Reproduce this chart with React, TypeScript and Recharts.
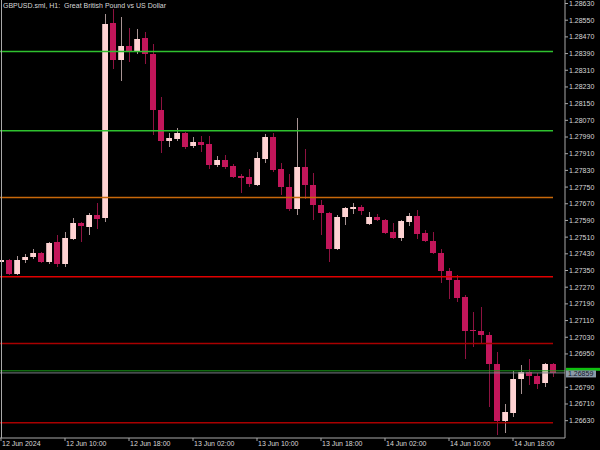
import React from 'react';
import { ComposedChart, Bar, XAxis, YAxis, ReferenceLine } from 'recharts';

// H1 candles, GBPUSD, starting 12 Jun 2024 02:00
const opens = [
  1.27391, 1.274, 1.27333, 1.274, 1.27415, 1.27434, 1.27391, 1.27487, 1.27381, 1.27501,
  1.27578, 1.27559, 1.27616, 1.27602, 1.28537, 1.28359, 1.28426, 1.28402, 1.28465, 1.28388,
  1.28119, 1.27971, 1.27981, 1.28009, 1.27947, 1.27966, 1.27956, 1.27856, 1.2788, 1.27851,
  1.27803, 1.27798, 1.2776, 1.27885, 1.2799, 1.27837, 1.2775, 1.27645, 1.27846, 1.2776,
  1.27664, 1.27626, 1.27453, 1.27607, 1.27645, 1.27654, 1.27573, 1.27607, 1.27592, 1.27535,
  1.27506, 1.27583, 1.27611, 1.2753, 1.27491, 1.27434, 1.27348, 1.27305, 1.27223, 1.27065,
  1.2706, 1.27041, 1.26902, 1.26629, 1.26667, 1.2683, 1.26863, 1.26844, 1.26811, 1.26902,
];
const highs = [
  1.2741, 1.27405, 1.2742, 1.27429, 1.27453, 1.27439, 1.27487, 1.2752, 1.27535, 1.27602,
  1.27583, 1.27626, 1.27674, 1.2858, 1.28604, 1.28565, 1.28513, 1.28508, 1.28493, 1.28436,
  1.28182, 1.28009, 1.28033, 1.28014, 1.2799, 1.27995, 1.27995, 1.27899, 1.27904, 1.27861,
  1.27813, 1.27837, 1.27918, 1.28004, 1.28009, 1.27865, 1.27813, 1.28081, 1.27933, 1.27817,
  1.27688, 1.27631, 1.27616, 1.27654, 1.27674, 1.27664, 1.27631, 1.27621, 1.27597, 1.27578,
  1.27592, 1.27626, 1.2764, 1.27544, 1.27535, 1.27453, 1.27362, 1.27328, 1.27233, 1.27151,
  1.27175, 1.27055, 1.26959, 1.2671, 1.26868, 1.26897, 1.26926, 1.26859, 1.26907, 1.26907,
];
const lows = [
  1.27386, 1.27328, 1.27328, 1.27386, 1.27405, 1.27386, 1.27381, 1.27367, 1.27367, 1.27496,
  1.27487, 1.2752, 1.27549, 1.27583, 1.28316, 1.28259, 1.2835, 1.28388, 1.2834, 1.28,
  1.27913, 1.27942, 1.27971, 1.27933, 1.27937, 1.27918, 1.27837, 1.27846, 1.27837, 1.27793,
  1.27722, 1.2775, 1.27755, 1.27865, 1.27822, 1.27712, 1.27635, 1.27616, 1.27693, 1.27592,
  1.2752, 1.27391, 1.27448, 1.27568, 1.27621, 1.27616, 1.27568, 1.27587, 1.27525, 1.27501,
  1.27491, 1.27563, 1.27501, 1.27487, 1.27429, 1.2729, 1.27213, 1.27199, 1.26926, 1.26983,
  1.27002, 1.26696, 1.26561, 1.26571, 1.26648, 1.26758, 1.26801, 1.26782, 1.26792, 1.26839,
];
const closes = [
  1.274, 1.27333, 1.274, 1.27415, 1.27434, 1.27391, 1.27482, 1.27381, 1.27506, 1.27578,
  1.27563, 1.27616, 1.27597, 1.28532, 1.28359, 1.28426, 1.28402, 1.2846, 1.28388, 1.28119,
  1.27971, 1.27985, 1.28009, 1.27942, 1.27966, 1.27952, 1.27856, 1.2788, 1.27846, 1.27798,
  1.27793, 1.27765, 1.27889, 1.2799, 1.27832, 1.2775, 1.27645, 1.27846, 1.2776, 1.27664,
  1.27626, 1.27453, 1.27607, 1.2765, 1.27654, 1.27635, 1.27607, 1.27592, 1.2753, 1.27506,
  1.27587, 1.27611, 1.27525, 1.27491, 1.27434, 1.27348, 1.27305, 1.27218, 1.2706, 1.2706,
  1.27041, 1.26902, 1.26629, 1.26672, 1.2683, 1.26863, 1.26844, 1.26806, 1.26902, 1.26859,
];

const timeTickIdx = [0, 8, 16, 24, 32, 40, 48, 56, 64];
const timeTickLabels = [
  '12 Jun 2024', '12 Jun 10:00', '12 Jun 18:00', '13 Jun 02:00', '13 Jun 10:00',
  '13 Jun 18:00', '14 Jun 02:00', '14 Jun 10:00', '14 Jun 18:00',
];
// 1.26870 sits under the current-price label in the reference, so it is not shown
const priceTicks = [
  1.2863, 1.2855, 1.2847, 1.2839, 1.2831, 1.2823, 1.2815, 1.2807, 1.2799, 1.2791,
  1.2783, 1.2775, 1.2767, 1.2759, 1.2751, 1.2743, 1.2735, 1.2727, 1.2719, 1.2711,
  1.2703, 1.2695, 1.2679, 1.2671, 1.2663,
];
const levelPrices = [1.284, 1.2802, 1.277, 1.2732, 1.27, 1.2662];
const levelColors = ['#2fc12f', '#2fc12f', '#c8680a', '#e00000', '#a80000', '#a80000'];
const levelEndIdx = 69;
const bidPrice = 1.26859;
const askPrice = 1.26869;

const data = opens.map((o, i) => ({ i, open: o, high: highs[i], low: lows[i], close: closes[i] }));

const FONT = '"Liberation Sans", Arial, sans-serif';
const AXIS = '#a8a8a8';
const TEXT = '#d8d8d8';

const Candle = (props: any) => {
  const { x, y, width, height, payload } = props;
  if (x == null || y == null || !payload) return null;
  const top = Math.min(y, y + height);
  const bot = Math.max(y, y + height);
  const { open, high, low, close } = payload;
  const k = (bot - top) / (high - low);
  const py = (p: number) => top + (high - p) * k;
  const cx = Math.round(x + width / 2);
  const bull = close >= open;
  const bTop = Math.round(py(Math.max(open, close)));
  const bBot = Math.max(Math.round(py(Math.min(open, close))), bTop + 1);
  const body = bull ? '#ffd3d3' : '#c2165a';
  const wick = bull ? '#a89494' : '#8e1240';
  return (
    <g>
      <line x1={cx + 0.5} x2={cx + 0.5} y1={Math.round(top)} y2={Math.round(bot)} stroke={wick} strokeWidth={1} />
      <rect x={cx - 3} y={bTop} width={6} height={bBot - bTop} fill={body} />
      {bull && <line x1={cx - 2.5} x2={cx - 2.5} y1={bTop} y2={bBot} stroke="#c8a8a8" strokeWidth={1} />}
    </g>
  );
};

const XTick = (props: any) => {
  const { x, y, payload } = props;
  const idx = timeTickIdx.indexOf(payload.value);
  return (
    <text x={x + 1} y={y} dy="0.71em" textAnchor="start" fill={TEXT} fontSize={7} fontFamily={FONT}>
      {idx >= 0 ? timeTickLabels[idx] : ''}
    </text>
  );
};

const YTick = (props: any) => {
  const { x, y, payload } = props;
  return (
    <text x={x} y={y} dy="0.355em" textAnchor="start" fill={TEXT} fontSize={7} fontFamily={FONT}>
      {Number(payload.value).toFixed(5)}
    </text>
  );
};

const AskLabel = (props: any) => {
  const { viewBox } = props;
  if (!viewBox) return null;
  const x0 = viewBox.x + viewBox.width + 1;
  return <rect x={x0} y={viewBox.y - 3} width={34} height={3} fill="#10c010" />;
};

const BidLabel = (props: any) => {
  const { viewBox, text } = props;
  if (!viewBox) return null;
  const x0 = viewBox.x + viewBox.width + 1;
  const yc = viewBox.y;
  return (
    <g>
      <rect x={x0} y={yc - 2.5} width={30} height={7} fill="#8c9aa8" />
      <text x={x0 + 2} y={yc + 1} dy="0.355em" fill="#101828" fontSize={7} fontFamily={FONT}>{text}</text>
    </g>
  );
};

export default function App() {
  return (
    <div style={{ position: 'fixed', left: 0, top: 0, width: 600, height: 450, background: '#000', overflow: 'hidden' }}>
      <ComposedChart width={600} height={450} data={data} margin={{ top: 0, right: 0, bottom: 0, left: 0 }}>
        <XAxis
          dataKey="i"
          type="number"
          domain={[-0.125, 70.5]}
          allowDataOverflow
          ticks={timeTickIdx}
          tick={<XTick />}
          tickSize={3}
          tickMargin={0}
          height={12}
          stroke={AXIS}
          axisLine={{ stroke: AXIS }}
          tickLine={{ stroke: AXIS }}
          interval={0}
        />
        <YAxis
          yAxisId="p"
          orientation="right"
          type="number"
          domain={[1.26547, 1.286468]}
          allowDataOverflow
          ticks={priceTicks}
          tick={<YTick />}
          tickSize={3}
          tickMargin={1}
          width={35}
          interval={0}
          axisLine={{ stroke: AXIS }}
          tickLine={{ stroke: AXIS }}
        />
        <ReferenceLine
          yAxisId="p"
          y={askPrice}
          stroke="#1a9e1a"
          strokeWidth={1}
          label={<AskLabel />}
        />
        <ReferenceLine
          yAxisId="p"
          y={bidPrice}
          stroke="#7a8088"
          strokeWidth={1}
          label={<BidLabel text={bidPrice.toFixed(5)} />}
        />
        <Bar
          yAxisId="p"
          dataKey={(d: any) => [d.low, d.high]}
          barSize={6}
          shape={<Candle />}
          isAnimationActive={false}
        />
        {levelPrices.map((p, j) => (
          <ReferenceLine
            key={j}
            yAxisId="p"
            segment={[{ x: -0.125, y: p }, { x: levelEndIdx, y: p }]}
            stroke={levelColors[j]}
            strokeWidth={1.5}
            ifOverflow="visible"
          />
        ))}
      </ComposedChart>
      <div style={{ position: 'absolute', left: 1, top: 0, width: 1, height: 438, background: AXIS }} />
      <div style={{ position: 'absolute', left: 3, top: 1, fontSize: 7, lineHeight: '9px', color: TEXT, fontFamily: FONT, whiteSpace: 'nowrap' }}>
        GBPUSD.sml, H1:&nbsp; Great British Pound vs US Dollar
      </div>
    </div>
  );
}
